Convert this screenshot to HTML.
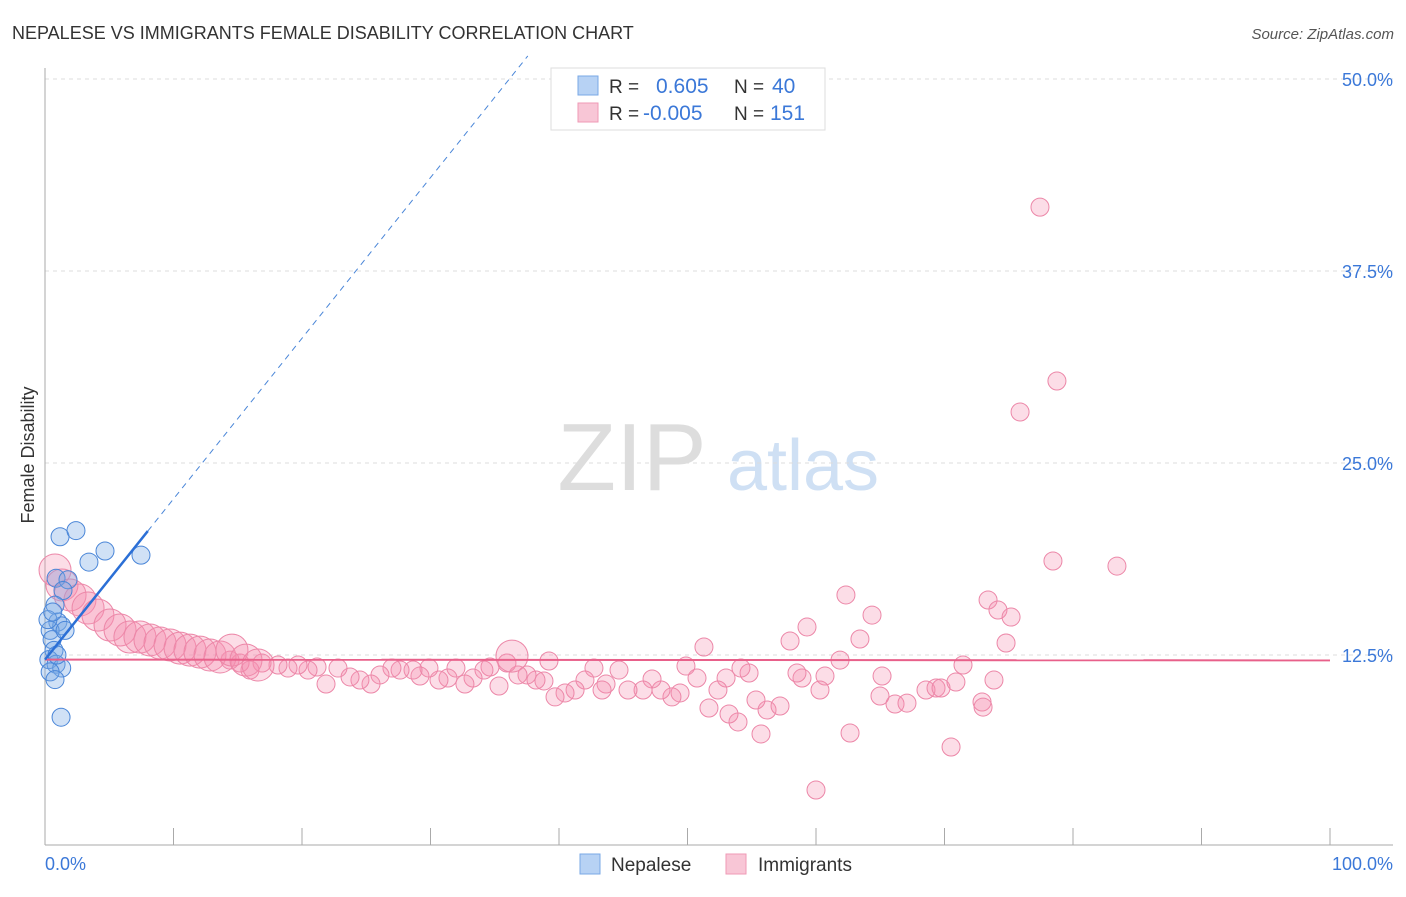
<!DOCTYPE html>
<html><head><meta charset="utf-8"><style>
body{margin:0;background:#fff;font-family:"Liberation Sans",sans-serif;}
svg text{font-family:"Liberation Sans",sans-serif;}
</style></head><body>
<svg id="chart" width="1406" height="892">
<text x="12" y="39" font-size="18" fill="#333">NEPALESE VS IMMIGRANTS FEMALE DISABILITY CORRELATION CHART</text>
<text x="1394" y="39" font-size="15" fill="#555" font-style="italic" text-anchor="end">Source: ZipAtlas.com</text>
<g>
<text x="632" y="490" font-size="96" fill="#ddd" font-family="Liberation Serif" text-anchor="middle">ZIP</text>
<text x="803" y="490" font-size="72" fill="#cfe0f4" text-anchor="middle">atlas</text>
</g>
<g id="grid"></g>
<g id="axes"></g>
<g id="marks"></g>
<text transform="translate(34,455) rotate(-90)" font-size="18" fill="#333" text-anchor="middle">Female Disability</text>
<text x="45" y="870" font-size="18" fill="#3b78d8">0.0%</text>
<text x="1393" y="870" font-size="18" fill="#3b78d8" text-anchor="end">100.0%</text>
<g>
<rect x="551" y="68" width="274" height="62" fill="#fff" stroke="#ddd"/>
<rect x="578" y="76" width="20" height="19" fill="#b7d2f4" stroke="#7aa8e6"/>
<rect x="578" y="103" width="20" height="19" fill="#f8c6d6" stroke="#ef9ab6"/>
<text x="609" y="93" font-size="19" fill="#333">R =</text>
<text x="656" y="93" font-size="21" fill="#3b78d8">0.605</text>
<text x="734" y="93" font-size="19" fill="#333">N =</text>
<text x="772" y="93" font-size="21" fill="#3b78d8">40</text>
<text x="609" y="120" font-size="19" fill="#333">R =</text>
<text x="643" y="120" font-size="21" fill="#3b78d8">-0.005</text>
<text x="734" y="120" font-size="19" fill="#333">N =</text>
<text x="770" y="120" font-size="21" fill="#3b78d8">151</text>
</g>
<g>
<rect x="580" y="854" width="20" height="20" fill="#b7d2f4" stroke="#7aa8e6"/>
<text x="611" y="871" font-size="19" fill="#333">Nepalese</text>
<rect x="726" y="854" width="20" height="20" fill="#f8c6d6" stroke="#ef9ab6"/>
<text x="758" y="871" font-size="19" fill="#333">Immigrants</text>
</g>
</svg>
<script>
const yTicks=[12.5,25,37.5,50];
const yTickLabels=["12.5%","25.0%","37.5%","50.0%"];
const xTicks=[10,20,30,40,50,60,70,80,90,100];
const nepaleseX=[1.17,2.41,3.42,4.67,7.47,0.86,1.79,1.4,0.78,1.0,1.3,0.4,0.55,0.7,0.3,0.86,1.3,0.4,0.78,0.23,1.25,0.93,1.56,0.6];
const nepaleseY=[20.2,20.6,18.55,19.27,19.0,17.5,17.4,16.7,15.75,14.65,14.4,14.1,13.5,12.8,12.2,11.9,11.65,11.4,10.9,14.8,8.45,12.5,14.1,15.3];
const immPx=[[1040,207],[1057,381],[1020,412],[1053,561],[1117,566],[846,595],[872,615],[988,600],[998,610],[1011,617],[1006,643],[807,627],[860,639],[790,641],[704,647],[840,660],[963,665],[994,680],[816,790],[951,747],[850,733],[761,734],[738,722],[709,708],[729,714],[767,710],[780,706],[895,704],[907,703],[926,690],[936,688],[941,688],[956,682],[982,702],[983,707],[880,696],[825,676],[820,690],[802,678],[797,673],[882,676],[749,673],[741,668],[756,700],[726,678],[718,690],[686,666],[697,678],[680,693],[672,697],[661,690],[652,679],[643,690],[628,690],[619,670],[606,684],[602,690],[594,668],[585,680],[575,690],[565,693],[555,697],[549,661],[544,681],[536,680],[527,675],[518,675],[507,663],[499,686],[490,667],[484,670],[473,678],[465,684],[456,668],[448,678],[439,680],[429,668],[420,676],[413,670],[400,670],[392,668],[380,675],[371,684],[360,680],[350,677],[338,668],[326,684],[317,667],[308,670],[298,665],[288,668],[278,665],[262,663],[250,670],[240,663],[230,660],[55,570],[62,585],[70,595],[80,600],[88,608],[98,615],[110,625],[120,630],[130,637],[140,637],[150,640],[160,643],[170,645],[180,648],[190,650],[200,652],[210,655],[220,657],[232,650],[246,660],[258,665],[512,656]];
// values derived from reading the picture
const immigrantsX=immPx.map(p=>+((p[0]-45)/12.85).toFixed(2));
const immigrantsY=immPx.map(p=>+((847-p[1])*0.0651).toFixed(2));
const immigrantsBig=immPx.map((p,i)=>i>=immPx.length-22);
const nepaleseTrend=[12.2,1.046];
const immigrantsTrend=[12.2,-0.0005];

const X0=45,X1=1330,Y0=847,PPY=192/12.5;
const sx=v=>X0+(X1-X0)*v/100;
const sy=v=>Y0-v*PPY;
const NS="http://www.w3.org/2000/svg";
function mk(tag,parent,attrs){const e=document.createElementNS(NS,tag);for(const k in attrs)e.setAttribute(k,attrs[k]);document.getElementById(parent).appendChild(e);return e;}

yTicks.forEach((t,i)=>{
 const l=mk('line','grid',{x1:45,x2:1393,y1:sy(t),y2:sy(t),stroke:'#ddd','stroke-dasharray':'4,4'});
 
 
 const tx=mk('text','grid',{x:1393,y:sy(t)+7,'font-size':18,fill:'#3b78d8','text-anchor':'end'});
 tx.textContent=yTickLabels[i];
 
 
});
const ax=mk('line','axes',{x1:45,x2:45,y1:68,y2:845,stroke:'#aaa'});


const bx=mk('line','axes',{x1:45,x2:1393,y1:845,y2:845,stroke:'#aaa'});


xTicks.forEach(t=>{
 const l=mk('line','axes',{x1:sx(t),x2:sx(t),y1:828,y2:845,stroke:'#aaa'});
 
 
});

immigrantsX.forEach((x,i)=>{
 const c=mk('circle','marks',{cx:sx(x),cy:sy(immigrantsY[i]),r:immigrantsBig[i]?16:9,fill:'rgba(244,143,177,0.3)',stroke:'#ec87a8','stroke-width':1});
 
 
});
nepaleseX.forEach((x,i)=>{
 const c=mk('circle','marks',{cx:sx(x),cy:sy(nepaleseY[i]),r:9,fill:'rgba(120,170,230,0.35)',stroke:'#4a86d8','stroke-width':1});
 
 
});
const it=mk('line','marks',{x1:sx(0),x2:sx(100),y1:sy(immigrantsTrend[0]),y2:sy(immigrantsTrend[0]+immigrantsTrend[1]*100),stroke:'#e8608a','stroke-width':2});


const nf=v=>nepaleseTrend[0]+nepaleseTrend[1]*v;
const xEnd=(51.5-nepaleseTrend[0])/nepaleseTrend[1];
const nd=mk('line','marks',{x1:sx(8),x2:sx(xEnd),y1:sy(nf(8)),y2:sy(nf(xEnd)),stroke:'#4a86d8','stroke-width':1,'stroke-dasharray':'6,5'});


const ns=mk('line','marks',{x1:sx(0),x2:sx(8),y1:sy(nf(0)),y2:sy(nf(8)),stroke:'#2b6fd6','stroke-width':2.5});


</script>
</body></html>
